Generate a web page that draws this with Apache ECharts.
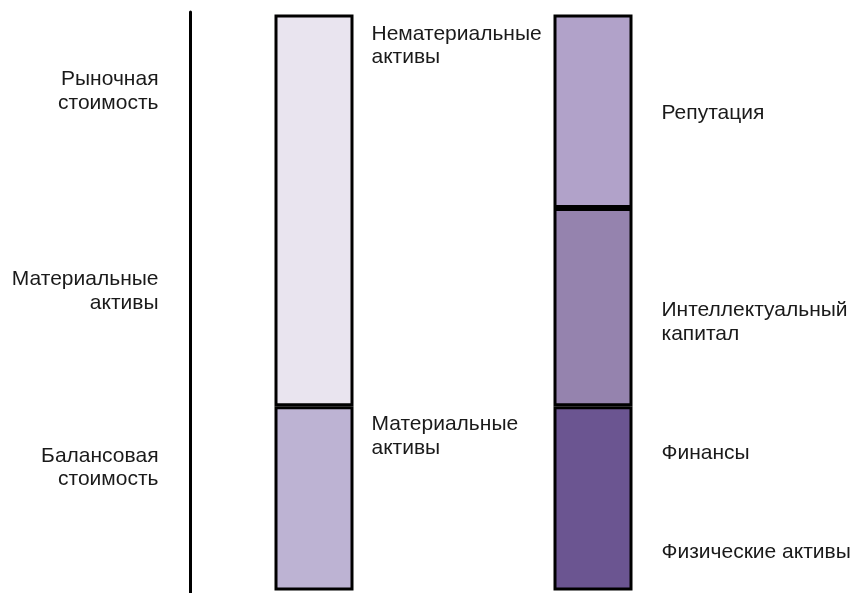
<!DOCTYPE html>
<html>
<head>
<meta charset="utf-8">
<script src="https://cdn.jsdelivr.net/npm/echarts@6/dist/echarts.min.js"></script>
<style>html,body{margin:0;padding:0;background:#fff;}#c{width:866px;height:593px;}</style>
</head>
<body>
<div id="c"></div>
<script>
// Categories (two columns)
var categories = ['Стоимость компании', 'Структура активов'];
// Segment values (share of market value, %)
var baseValues = [32, 32];            // Материальные активы | Физические активы + Финансы
var middleValues = [68, 34.4];        // Нематериальные активы | Интеллектуальный капитал
var topValues = ['-', 33.6];          // — | Репутация
// Segment labels
var baseLabels = ['Материальные\nактивы', 'Финансы\n\n\n\nФизические активы'];
var middleLabels = ['Нематериальные\nактивы', 'Интеллектуальный\nкапитал'];
var topLabels = ['', 'Репутация'];
// Left-side annotation labels (value on the axis where each label sits)
var sideLabelValues = [86.7, 52.0, 21.3];
var sideLabelTexts = ['Рыночная\nстоимость', 'Материальные\nактивы', 'Балансовая\nстоимость'];

var FONT = "'Liberation Sans', Arial, Helvetica, sans-serif";
var TEXT = '#1a1a1a';
var FS = 21;

var colors = {
  base: ['#bdb3d3', '#6b5591'],
  middle: ['#e9e4ef', '#9583ae'],
  top: ['#e9e4ef', '#b1a2c9']
};
// label placement inside each segment: [offset from top of segment, gap to the right of bar, lineHeight]
var labelPlace = {
  base: [[6.5, 18, 23.5], [34.5, 29, 24.75]],
  middle: [[7.5, 18, 23.5], [89.5, 29, 24.5]],
  top: [[0, 18, 24], [86.5, 29, 24]]
};

function buildData(values, labels, key) {
  return values.map(function (v, i) {
    var p = labelPlace[key][i];
    return {
      value: v,
      itemStyle: { color: colors[key][i] },
      label: {
        show: labels[i] !== '',
        formatter: labels[i],
        position: ['100%', p[0]],
        offset: [p[1], 0],
        align: 'left',
        verticalAlign: 'top',
        lineHeight: p[2]
      }
    };
  });
}

var commonBar = {
  type: 'bar',
  stack: 'total',
  barWidth: 79,
  itemStyle: { borderColor: '#000', borderWidth: 3 },
  label: { color: TEXT, fontSize: FS, fontFamily: FONT },
  emphasis: { disabled: true },
  animation: false
};

var chart = echarts.init(document.getElementById('c'), null, { renderer: 'canvas' });
chart.setOption({
  backgroundColor: '#fff',
  animation: false,
  grid: { left: 174.5, top: 12, width: 558, height: 581, containLabel: false },
  xAxis: {
    type: 'category',
    data: categories,
    show: false,
    boundaryGap: true
  },
  yAxis: {
    type: 'value',
    min: -0.434,
    max: 100.434,
    offset: -16,
    axisLine: { show: true, lineStyle: { color: '#000', width: 3 } },
    axisTick: { show: false },
    splitLine: { show: false },
    axisLabel: {
      show: true,
      customValues: sideLabelValues,
      margin: 32,
      color: TEXT,
      fontSize: FS,
      fontFamily: FONT,
      lineHeight: 23.5,
      align: 'right',
      formatter: function (val) {
        for (var i = 0; i < sideLabelValues.length; i++) {
          if (Math.abs(sideLabelValues[i] - val) < 1e-6) return sideLabelTexts[i];
        }
        return '';
      }
    }
  },
  series: [
    Object.assign({}, commonBar, { name: 'base', data: buildData(baseValues, baseLabels, 'base') }),
    Object.assign({}, commonBar, { name: 'middle', data: buildData(middleValues, middleLabels, 'middle') }),
    Object.assign({}, commonBar, { name: 'top', data: buildData(topValues, topLabels, 'top') })
  ]
});
</script>
</body>
</html>
